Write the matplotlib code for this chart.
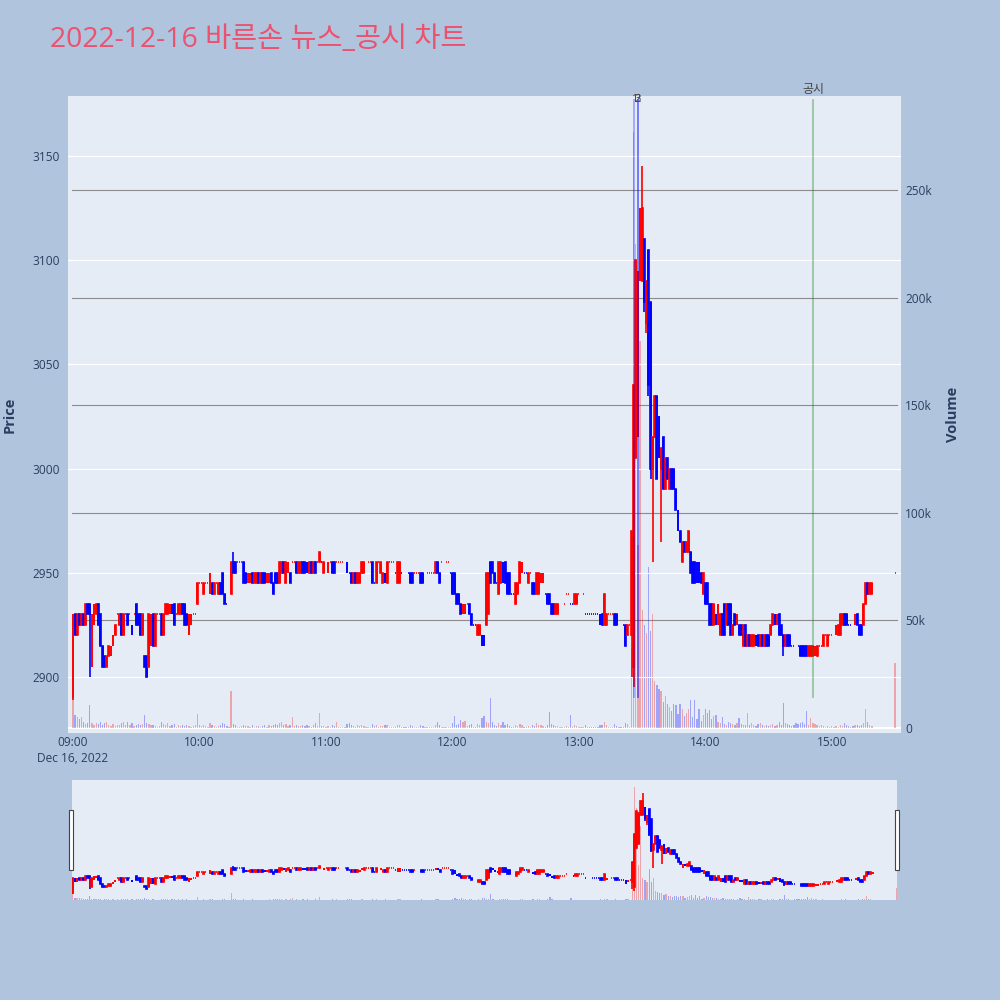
import matplotlib.pyplot as plt
from matplotlib.patches import Rectangle

plt.rcParams["font.family"] = ["Open Sans", "Noto Sans CJK KR", "DejaVu Sans"]

# minutes after 09:00 (last bar is the 15:30 closing auction)
minutes = list(range(380)) + [390]

opens = [
    2890, 2930, 2920, 2930, 2925, 2930, 2925, 2935, 2935, 2905,
    2925, 2930, 2935, 2930, 2915, 2910, 2905, 2910, 2910, 2915,
    2920, 2930, 2925, 2930, 2920, 2930, 2930, 2930, 2925, 2930,
    2935, 2930, 2930, 2920, 2910, 2910, 2905, 2915, 2930, 2915,
    2930, 2930, 2930, 2920, 2930, 2930, 2930, 2935, 2935, 2930,
    2930, 2930, 2935, 2935, 2930, 2920, 2925, 2930, 2930, 2935,
    2945, 2945, 2940, 2945, 2945, 2940, 2945, 2940, 2945, 2940,
    2945, 2950, 2940, 2935, 2935, 2940, 2955, 2955, 2955, 2955,
    2955, 2955, 2950, 2945, 2945, 2950, 2945, 2945, 2950, 2945,
    2950, 2950, 2945, 2945, 2950, 2945, 2950, 2950, 2945, 2950,
    2955, 2945, 2950, 2950, 2955, 2955, 2955, 2950, 2950, 2955,
    2955, 2955, 2950, 2955, 2950, 2955, 2955, 2955, 2955, 2950,
    2955, 2950, 2955, 2955, 2955, 2955, 2955, 2955, 2955, 2955,
    2955, 2950, 2950, 2945, 2950, 2945, 2945, 2950, 2950, 2955,
    2955, 2955, 2955, 2945, 2945, 2955, 2950, 2945, 2950, 2945,
    2955, 2955, 2955, 2950, 2945, 2945, 2950, 2950, 2950, 2950,
    2950, 2950, 2950, 2950, 2950, 2950, 2950, 2950, 2950, 2950,
    2950, 2950, 2950, 2955, 2950, 2955, 2955, 2955, 2955, 2950,
    2950, 2950, 2940, 2940, 2935, 2930, 2930, 2935, 2935, 2930,
    2925, 2925, 2920, 2920, 2920, 2920, 2925, 2930, 2955, 2955,
    2950, 2945, 2940, 2945, 2955, 2955, 2950, 2950, 2940, 2940,
    2935, 2940, 2945, 2950, 2950, 2950, 2945, 2950, 2945, 2945,
    2940, 2940, 2945, 2945, 2940, 2940, 2940, 2935, 2935, 2930,
    2930, 2935, 2935, 2935, 2940, 2940, 2935, 2935, 2935, 2935,
    2940, 2940, 2940, 2930, 2930, 2930, 2930, 2930, 2930, 2930,
    2930, 2930, 2925, 2925, 2930, 2930, 2930, 2930, 2930, 2925,
    2925, 2925, 2925, 2920, 2925, 2920, 2905, 3005, 3015, 3090,
    3090, 3110, 3070, 3105, 3080, 3000, 3015, 3035, 3025, 3000,
    3015, 2990, 3005, 2990, 3000, 3000, 2990, 2980, 2970, 2955,
    2965, 2960, 2960, 2960, 2955, 2955, 2955, 2955, 2950, 2940,
    2945, 2945, 2935, 2935, 2925, 2930, 2925, 2920, 2930, 2935,
    2925, 2935, 2935, 2920, 2930, 2925, 2925, 2925, 2915, 2925,
    2915, 2920, 2915, 2915, 2920, 2920, 2915, 2920, 2915, 2920,
    2920, 2920, 2925, 2930, 2925, 2930, 2925, 2920, 2915, 2920,
    2920, 2915, 2915, 2915, 2915, 2915, 2915, 2915, 2915, 2910,
    2910, 2910, 2910, 2910, 2915, 2915, 2915, 2920, 2915, 2920,
    2920, 2920, 2920, 2920, 2920, 2925, 2930, 2930, 2925, 2925,
    2925, 2925, 2930, 2925, 2925, 2925, 2935, 2945, 2940, 2940,
    2950,
]

closes = [
    2930, 2920, 2930, 2925, 2930, 2925, 2935, 2930, 2930, 2930,
    2935, 2935, 2925, 2915, 2905, 2905, 2910, 2915, 2915, 2920,
    2925, 2930, 2930, 2920, 2930, 2930, 2925, 2930, 2920, 2930,
    2925, 2925, 2920, 2930, 2905, 2900, 2930, 2930, 2915, 2930,
    2930, 2930, 2920, 2930, 2935, 2935, 2935, 2930, 2925, 2930,
    2935, 2935, 2930, 2925, 2925, 2930, 2930, 2930, 2930, 2945,
    2945, 2945, 2945, 2945, 2945, 2950, 2940, 2945, 2945, 2945,
    2940, 2940, 2935, 2935, 2935, 2955, 2950, 2950, 2955, 2955,
    2955, 2945, 2945, 2950, 2950, 2945, 2950, 2950, 2945, 2950,
    2945, 2945, 2950, 2950, 2945, 2940, 2945, 2945, 2955, 2955,
    2950, 2955, 2955, 2945, 2955, 2955, 2950, 2955, 2955, 2950,
    2950, 2950, 2955, 2950, 2955, 2950, 2955, 2960, 2955, 2955,
    2955, 2955, 2955, 2950, 2950, 2955, 2955, 2955, 2955, 2955,
    2950, 2950, 2945, 2950, 2945, 2950, 2950, 2955, 2955, 2955,
    2955, 2955, 2945, 2945, 2955, 2955, 2955, 2950, 2945, 2955,
    2955, 2955, 2955, 2950, 2955, 2955, 2950, 2950, 2950, 2950,
    2945, 2945, 2950, 2950, 2950, 2945, 2945, 2950, 2950, 2950,
    2950, 2950, 2955, 2950, 2945, 2955, 2955, 2955, 2955, 2950,
    2940, 2940, 2935, 2935, 2930, 2935, 2935, 2935, 2930, 2925,
    2925, 2925, 2925, 2925, 2915, 2915, 2950, 2950, 2945, 2950,
    2945, 2945, 2955, 2955, 2945, 2945, 2940, 2940, 2940, 2940,
    2945, 2945, 2955, 2955, 2950, 2950, 2950, 2950, 2940, 2940,
    2950, 2950, 2950, 2950, 2940, 2935, 2935, 2930, 2930, 2935,
    2935, 2935, 2935, 2935, 2940, 2940, 2935, 2935, 2940, 2940,
    2940, 2940, 2940, 2930, 2930, 2930, 2930, 2930, 2930, 2930,
    2925, 2925, 2940, 2930, 2930, 2930, 2930, 2925, 2925, 2925,
    2925, 2925, 2915, 2925, 2925, 2970, 3040, 3100, 3095, 3125,
    3125, 3080, 3090, 3040, 3000, 3015, 3035, 2995, 3005, 3010,
    2990, 3005, 2995, 3000, 2990, 2990, 2980, 2970, 2965, 2965,
    2960, 2965, 2970, 2950, 2945, 2945, 2945, 2945, 2945, 2950,
    2935, 2935, 2925, 2925, 2935, 2925, 2935, 2930, 2920, 2920,
    2935, 2925, 2920, 2925, 2925, 2930, 2920, 2920, 2925, 2915,
    2920, 2915, 2920, 2920, 2915, 2915, 2920, 2915, 2920, 2915,
    2915, 2925, 2930, 2925, 2930, 2920, 2920, 2915, 2920, 2915,
    2915, 2915, 2915, 2915, 2915, 2910, 2910, 2910, 2910, 2915,
    2915, 2915, 2915, 2915, 2915, 2915, 2920, 2920, 2920, 2920,
    2920, 2920, 2925, 2925, 2930, 2930, 2925, 2925, 2925, 2925,
    2925, 2930, 2925, 2920, 2920, 2935, 2945, 2940, 2945, 2945,
    2950,
]

# shadows that reach beyond the body
wick_high = {76: 2960, 267: 3100, 270: 3145}
wick_low = {0: 2889, 8: 2900, 265: 2900, 266: 2895, 271: 3075, 272: 3065,
            273: 3035, 274: 2995, 275: 2955, 279: 2965, 337: 2910}

volumes = [
    13800, 6000, 5000, 4200, 5200, 3000, 1800, 2500, 10700, 2200,
    1500, 2400, 1800, 2600, 1200, 2300, 3000, 1500, 1000, 2000,
    900, 1600, 1200, 2200, 2800, 1500, 3000, 1200, 2400, 800,
    1500, 2000, 1400, 1800, 6000, 2500, 1800, 1200, 1500, 900,
    600, 1100, 3000, 1800, 1500, 2200, 800, 1400, 2000, 700,
    1300, 900, 1500, 1000, 1600, 800, 500, 900, 1200, 6700,
    1200, 800, 1500, 900, 700, 2200, 1500, 1100, 600, 900,
    1200, 2500, 1800, 900, 600, 17000, 2000, 1500, 700, 500,
    800, 1300, 900, 1100, 700, 1400, 600, 1000, 800, 500,
    900, 1200, 700, 1400, 800, 1600, 2000, 1300, 2500, 3000,
    1200, 1800, 900, 1500, 5300, 800, 1400, 1100, 900, 1600,
    800, 1300, 900, 700, 1200, 2200, 900, 7100, 1100, 800,
    600, 1000, 700, 1400, 900, 2600, 500, 400, 700, 600,
    2000, 2200, 1500, 900, 700, 1200, 800, 1500, 900, 500,
    600, 400, 1800, 1000, 1300, 500, 900, 1100, 1500, 1200,
    400, 300, 500, 700, 1600, 1300, 400, 300, 500, 400,
    1200, 900, 300, 400, 500, 1500, 800, 300, 400, 300,
    400, 500, 1500, 2600, 1200, 500, 400, 300, 500, 600,
    2200, 5600, 1500, 1800, 3800, 2600, 3200, 900, 1500, 2000,
    600, 700, 1800, 1200, 4600, 5600, 3000, 2500, 14000, 2600,
    1200, 800, 2400, 1500, 2800, 1400, 1800, 1000, 600, 500,
    1200, 900, 2000, 1300, 600, 500, 1100, 400, 1500, 900,
    2500, 1300, 1200, 1000, 500, 1600, 7400, 1800, 1200, 900,
    1000, 400, 300, 500, 800, 400, 6000, 500, 1200, 900,
    400, 300, 500, 1200, 300, 400, 300, 500, 400, 300,
    1500, 1200, 2600, 1500, 400, 300, 500, 1800, 900, 500,
    400, 600, 2500, 1800, 700, 37000, 277000, 225000, 85000, 180000,
    55000, 48000, 44000, 75000, 45000, 53000, 22000, 20000, 18000, 17000,
    12000, 15000, 11000, 10000, 8000, 11000, 10500, 6500, 11000, 9000,
    5500, 7000, 9000, 13000, 5000, 13000, 4000, 9000, 3500, 6000,
    9000, 7000, 8500, 4000, 5500, 6000, 3000, 2500, 5000, 2000,
    1500, 3000, 2200, 1800, 1200, 2500, 4500, 2000, 1500, 1200,
    7000, 1600, 2500, 1500, 1000, 1800, 2200, 1200, 900, 1500,
    800, 1500, 2000, 1000, 1200, 3000, 1500, 11600, 2500, 1800,
    1200, 900, 1500, 2500, 1800, 2200, 3000, 2000, 8000, 1500,
    4500, 2500, 2000, 1200, 900, 1500, 1000, 700, 900, 600,
    800, 500, 1000, 700, 1500, 900, 2500, 1200, 800, 600,
    900, 1200, 1600, 800, 1500, 2500, 9000, 3000, 1500, 900,
    30000,
]

news_minutes = [266.3, 267.9, 267.9]
news_labels = ["1", "3", "2"]
disclosure_minute = 351.0

hour_ticks = [0, 60, 120, 180, 240, 300, 360]
hour_labels = ["09:00", "10:00", "11:00", "12:00", "13:00", "14:00", "15:00"]
price_ticks = [2900, 2950, 3000, 3050, 3100, 3150]
vol_ticks = [0, 50000, 100000, 150000, 200000, 250000]
vol_labels = ["0", "50k", "100k", "150k", "200k", "250k"]

UP, DOWN = "#ff0000", "#0000ff"
TXT = "#2a3f5f"
PLOT_BG = "#E5ECF6"
PAPER_BG = "#B0C4DE"

highs = [max(o, c, wick_high.get(m, o)) for m, o, c in zip(minutes, opens, closes)]
lows = [min(o, c, wick_low.get(m, o)) for m, o, c in zip(minutes, opens, closes)]

# plotly-like direction: flat candles follow the move from the previous close
colors = []
prev_c, prev_col = None, DOWN
for o, c in zip(opens, closes):
    if c > o:
        col = UP
    elif c < o:
        col = DOWN
    elif prev_c is not None and c > prev_c:
        col = UP
    elif prev_c is not None and c < prev_c:
        col = DOWN
    else:
        col = prev_col
    colors.append(col)
    prev_c, prev_col = c, col

bottoms = [min(o, c) for o, c in zip(opens, closes)]
heights = [abs(c - o) for o, c in zip(opens, closes)]


def draw_candles(ax):
    ax.vlines(minutes, lows, highs, colors=colors, linewidth=1.2, zorder=3)
    ax.bar(minutes, heights, bottom=bottoms, width=0.4, color=colors,
           edgecolor=colors, linewidth=1.2, zorder=3)


def draw_volume(ax):
    ax.bar(minutes, volumes, width=0.6, color=colors, alpha=0.3, linewidth=0, zorder=2)


fig = plt.figure(figsize=(10, 10), dpi=100, facecolor=PAPER_BG)

# main chart: volume axes underneath, price twin on top
axv = fig.add_axes([0.068, 0.267, 0.833, 0.637])
ax = axv.twinx()
ax.yaxis.tick_left()
axv.yaxis.tick_right()
axv.set_facecolor(PLOT_BG)
ax.patch.set_visible(False)

draw_volume(axv)
for v in vol_ticks[1:]:
    axv.axhline(v, xmin=4 / 833, xmax=829 / 833, color="#8c8c8c", linewidth=0.8, zorder=1)
axv.axhline(0, color="white", linewidth=1.5, zorder=1)
axv.set_ylim(-2300, 293700)
axv.set_yticks(vol_ticks)
axv.set_yticklabels(vol_labels)

for p in price_ticks:
    ax.axhline(p, color="white", linewidth=0.8, zorder=1)
draw_candles(ax)
ax.set_ylim(2873.1, 3178.8)
ax.set_yticks(price_ticks)
ax.set_yticklabels([str(p) for p in price_ticks])

axv.set_xlim(-2.37, 392.8)
axv.set_xticks(hour_ticks)
axv.set_xticklabels(hour_labels)

# news and disclosure markers
for m in news_minutes:
    ax.axvline(m, ymin=0.0565, ymax=0.994, color="blue", alpha=0.3, linewidth=1.3, zorder=4)
for m, lab in zip(news_minutes, news_labels):
    ax.text(m, 0.995, lab, transform=ax.get_xaxis_transform(), ha="center", va="center",
            fontsize=8, color="#444444", zorder=5)
ax.axvline(disclosure_minute, ymin=0.0565, ymax=0.9937, color="green", alpha=0.35,
           linewidth=1.3, zorder=4)
fig.text(0.813, 0.910, "공시", ha="center", va="center", fontsize=8.6, color="#444444")

for a in (ax, axv):
    for s in a.spines.values():
        s.set_visible(False)
ax.tick_params(axis="y", length=0, pad=5.8, labelsize=8.6, labelcolor=TXT,
               labelleft=True, labelright=False)
axv.tick_params(axis="y", length=0, pad=2.9, labelsize=8.6, labelcolor=TXT,
                labelleft=False, labelright=True)
axv.tick_params(axis="x", length=0, pad=2.5, labelsize=8.6, labelcolor=TXT)
fig.text(0.073, 0.242, "Dec 16, 2022", ha="center", va="center", fontsize=8.6, color=TXT)

fig.text(0.010, 0.5855, "Price", rotation=90, ha="center", va="center",
         fontsize=10.5, fontweight="bold", color=TXT)
fig.text(0.953, 0.5855, "Volume", rotation=90, ha="center", va="center",
         fontsize=10.5, fontweight="bold", color=TXT)

fig.text(0.05, 0.960, "2022-12-16 바른손 뉴스_공시 차트", ha="left", va="center",
         fontsize=20.4, color="#EB5270")

# range slider
sv = fig.add_axes([0.072, 0.100, 0.825, 0.120])
sp = sv.twinx()
sv.set_facecolor(PLOT_BG)
sp.patch.set_visible(False)
draw_volume(sv)
draw_candles(sp)
sv.set_ylim(0, 293700)
sp.set_ylim(2873.1, 3178.8)
sv.set_xlim(-0.4, 390.4)
sv.set_xticks([])
sv.set_yticks([])
sp.set_yticks([])
for a in (sv, sp):
    for s in a.spines.values():
        s.set_visible(False)

for left in (0.0693, 0.8945):
    fig.patches.append(Rectangle((left, 0.130), 0.004, 0.060, transform=fig.transFigure,
                                 facecolor="white", edgecolor="#444444", linewidth=0.8))

fig.savefig("out.png", dpi=100, facecolor=PAPER_BG)
